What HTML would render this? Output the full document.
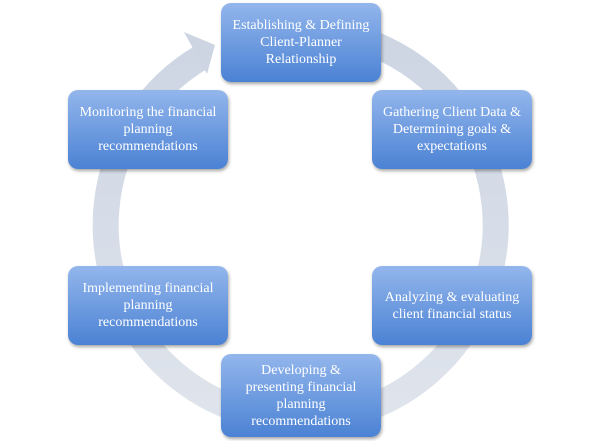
<!DOCTYPE html>
<html><head><style>
body{margin:0;width:600px;height:441px;background:#fff;overflow:hidden;position:relative;font-family:"Liberation Serif",serif;}
.b{position:absolute;width:160px;height:79px;border-radius:10px;background:linear-gradient(#93b6ec,#4b82d4);box-shadow:1px 2px 3px rgba(0,0,0,.35);color:#fff;font-size:14px;line-height:17px;display:flex;align-items:center;justify-content:center;text-align:center;box-sizing:border-box;padding:0 10px;}
</style></head><body>
<svg width="600" height="441" style="position:absolute;left:0;top:0">
<defs><linearGradient id="g" x1="0" y1="0" x2="0" y2="1"><stop offset="0" stop-color="#cdd5e3"/><stop offset="1" stop-color="#dfe4ec"/></linearGradient></defs>
<path d="M 200 58 A 195 195 0 1 0 300 30" fill="none" stroke="url(#g)" stroke-width="26"/>
<polygon points="215,45 184,32 207,74" fill="#cdd5e3"/>
</svg>
<div class="b" style="left:221px;top:3px">Establishing &amp; Defining Client-Planner Relationship</div>
<div class="b" style="left:372px;top:90px">Gathering Client Data &amp; Determining goals &amp; expectations</div>
<div class="b" style="left:372px;top:266px">Analyzing &amp; evaluating client financial status</div>
<div class="b" style="left:221px;top:354px;height:83px">Developing &amp; presenting financial planning recommendations</div>
<div class="b" style="left:68px;top:266px">Implementing financial planning recommendations</div>
<div class="b" style="left:68px;top:90px">Monitoring the financial planning recommendations</div>
</body></html>
